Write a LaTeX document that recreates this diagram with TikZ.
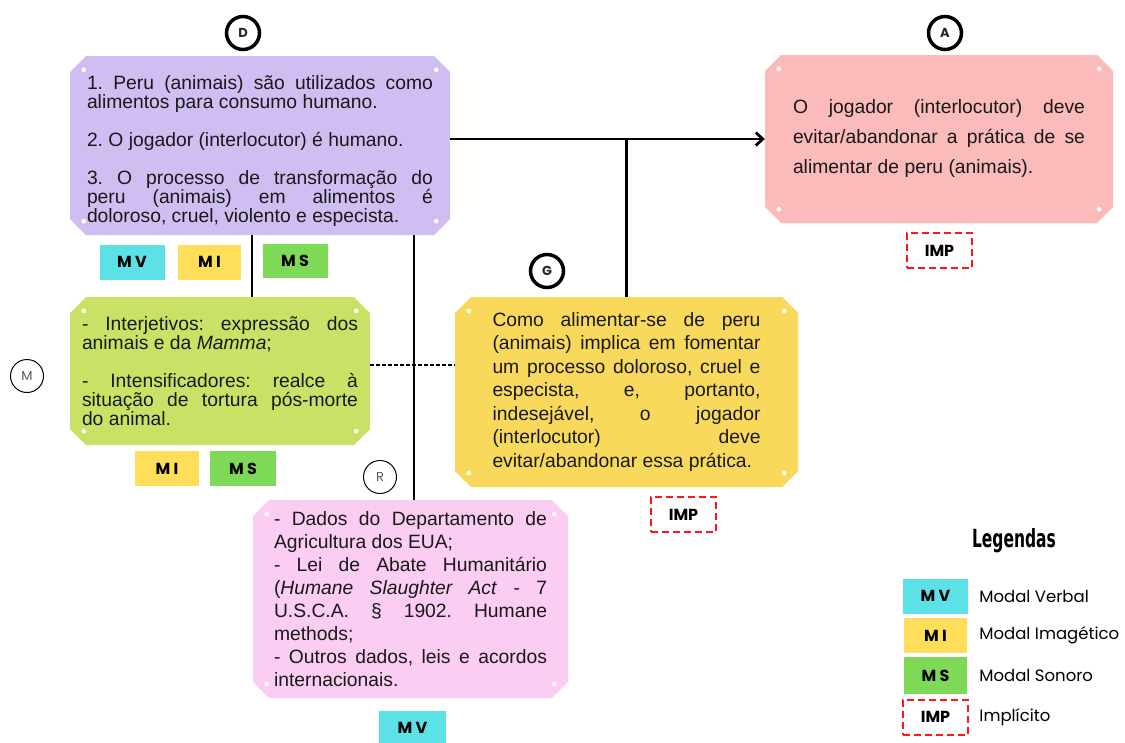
\documentclass[tikz,border=0pt]{standalone}
\usepackage{fontspec}
\setmainfont{Liberation Sans}
\newfontfamily\popfont{Poppins}
\newfontfamily\legfont[FakeStretch=0.62]{DejaVu Sans}
\usetikzlibrary{chains,positioning,shapes.misc,calc,arrows.meta}
\definecolor{lilas}{RGB}{208,190,243}
\definecolor{rosa}{RGB}{251,187,187}
\definecolor{lima}{RGB}{201,226,101}
\definecolor{ouro}{RGB}{249,217,92}
\definecolor{rosinha}{RGB}{252,205,242}
\definecolor{ciano}{RGB}{92,225,230}
\definecolor{amarelo}{RGB}{255,222,89}
\definecolor{verde}{RGB}{126,217,87}
\definecolor{vermelho}{RGB}{255,22,22}
\definecolor{tinta}{RGB}{30,44,30}
\tolerance=10000
\hyphenpenalty=10000
\exhyphenpenalty=10000
\frenchspacing
\tikzstyle{caixa}=[chamfered rectangle,chamfered rectangle xsep=8pt,chamfered rectangle ysep=8pt,inner sep=0pt,align=justify,text=black!90]
\tikzstyle{selo}=[minimum width=65pt,minimum height=35pt,inner sep=0pt,font=\popfont\bfseries\fontsize{16}{16}\selectfont]
\tikzstyle{imp}=[selo,draw=vermelho,line width=2.5pt,dash pattern=on 7pt off 4pt]
\tikzstyle{letra}=[circle,draw,line width=3.5pt,minimum size=33pt,inner sep=0pt,font=\popfont\bfseries\fontsize{13}{13}\selectfont,text=tinta]
\tikzstyle{letrafina}=[letra,line width=1pt,font=\popfont\fontsize{13}{13}\selectfont,text=black!65]
\tikzstyle{rotulo}=[inner sep=0pt,font=\popfont\fontsize{16.5}{16.5}\selectfont]

\begin{document}
\begin{tikzpicture}[x=1pt,y=-1pt]
\useasboundingbox (0,0) rectangle (1125,742);

% caixas principais
\node[caixa,fill=lilas,minimum width=380pt,minimum height=175pt,text width=346pt,font=\fontsize{19.3}{19}\selectfont] (peru) at (260,145.5)
  {\rule{0pt}{26pt}1. Peru (animais) são utilizados como\linebreak alimentos para consumo humano.\\[19pt]
   2. O jogador (interlocutor) é humano.\\[19pt]
   3. O processo de transformação do\linebreak peru (animais) em alimentos é\linebreak doloroso, cruel, violento e especista.};
\node[caixa,fill=rosa,minimum width=348pt,minimum height=168pt,text width=292pt,font=\fontsize{19.3}{30}\selectfont] (aband) at (939,139)
  {O jogador (interlocutor) deve\linebreak evitar/abandonar a prática de se\linebreak alimentar de peru (animais).};
\node[caixa,fill=lima,minimum width=300pt,minimum height=148pt,text width=276pt,font=\fontsize{19.3}{19}\selectfont] (mamma) at (220,371)
  {- Interjetivos: expressão dos\linebreak animais e da \textit{Mamma};\\[19pt]
   - Intensificadores: realce à\linebreak situação de tortura pós-morte\linebreak do animal.};
\node[caixa,fill=ouro,minimum width=343pt,minimum height=190pt,text width=268pt,font=\fontsize{19.3}{23.5}\selectfont] (como) at (626.5,392)
  {Como alimentar-se de peru\linebreak (animais) implica em fomentar\linebreak um processo doloroso, cruel e\linebreak especista, e, portanto,\linebreak indesejável, o jogador\linebreak (interlocutor) deve\linebreak evitar/abandonar essa prática.};
\node[caixa,fill=rosinha,minimum width=315pt,minimum height=198pt,text width=273pt,font=\fontsize{19.3}{23}\selectfont] (dados) at (410.5,599)
  {- Dados do Departamento de\linebreak Agricultura dos EUA;\\
   - Lei de Abate Humanitário\linebreak (\textit{Humane Slaughter Act} - 7\linebreak U.S.C.A. § 1902. Humane\linebreak methods;\\
   - Outros dados, leis e acordos\linebreak internacionais.};

% pontinhos brancos
\foreach \b in {peru,aband,mamma,como,dados}
  \foreach \a/\dx/\dy in {north/14/14,north/-14/14,south/14/-14,south/-14/-14}
    \fill[white] ($(\b.\a -| \b.west)+(\dx,\dy)$) circle (2.3)
                 ($(\b.\a -| \b.east)+(\dx,\dy)$) circle (2.3);

% letras
\node[letra] (letD) at (243,33) {D};
\node[letra] (letA) at (945,33) {A};
\node[letra] (letG) at (547,271) {G};
\node[letrafina] (letM) at (27,376) {M};
\node[letrafina] (letR) at (380,477) {R};

% selos
\node[selo,fill=ciano] (mv1) at (132,262) {M V};
\node[selo,fill=amarelo,minimum width=63pt] (mi1) at (209.5,262) {M I};
\node[selo,fill=verde,minimum height=34pt] (ms1) at (295,261) {M S};
\node[selo,fill=amarelo,minimum width=64pt] (mi2) at (167,468.5) {M I};
\node[selo,fill=verde,minimum width=66pt] (ms2) at (243,468.5) {M S};
\node[selo,fill=ciano,minimum width=67pt] (mv3) at (412.5,728) {M V};
\node[imp] (impA) at (939.5,250.5) {IMP};
\node[imp] (impG) at (683.5,514.5) {IMP};

% ligacoes
\draw[line width=2.8pt,-{Straight Barb[length=7pt,width=13pt]}] (peru.east |- aband.west) -- (aband.west);
\coordinate (juncao) at (como.north |- aband.west);
\draw[line width=2.2pt] (juncao) -- (como.north);
\coordinate (ligM) at (252,0);
\draw[line width=1.5pt] (ligM |- peru.south) -- (ligM |- mamma.north);
\coordinate (ligR) at (414,0);
\draw[line width=1.8pt] (ligR |- peru.south) -- (ligR |- dados.north);
\coordinate (ligG) at (0,365);
\draw[line width=1.2pt,dash pattern=on 4pt off 2pt] (mamma.east |- ligG) -- (como.west |- ligG);

% legenda
\node[font=\legfont\bfseries\fontsize{25}{25}\selectfont] (leg) at (1014,541) {Legendas};
\begin{scope}[start chain=legenda going below, node distance=4pt]
  \node[on chain=legenda,selo,fill=ciano] (lmv) at (935.5,596) {M V};
  \node[on chain=legenda,selo,fill=amarelo,minimum width=63pt] (lmi) {M I};
  \node[on chain=legenda,selo,fill=verde,minimum width=63pt,minimum height=37pt] (lms) {M S};
  \node[on chain=legenda,imp] (limp) {IMP};
\end{scope}
\node[rotulo,right=11pt of lmv] (tmv) {Modal Verbal};
\node[rotulo,right=12pt of lmi] (tmi) {Modal Imagético};
\node[rotulo,right=12pt of lms] (tms) {Modal Sonoro};
\node[rotulo,right=10pt of limp] (timp) {Implícito};
\end{tikzpicture}
\end{document}
